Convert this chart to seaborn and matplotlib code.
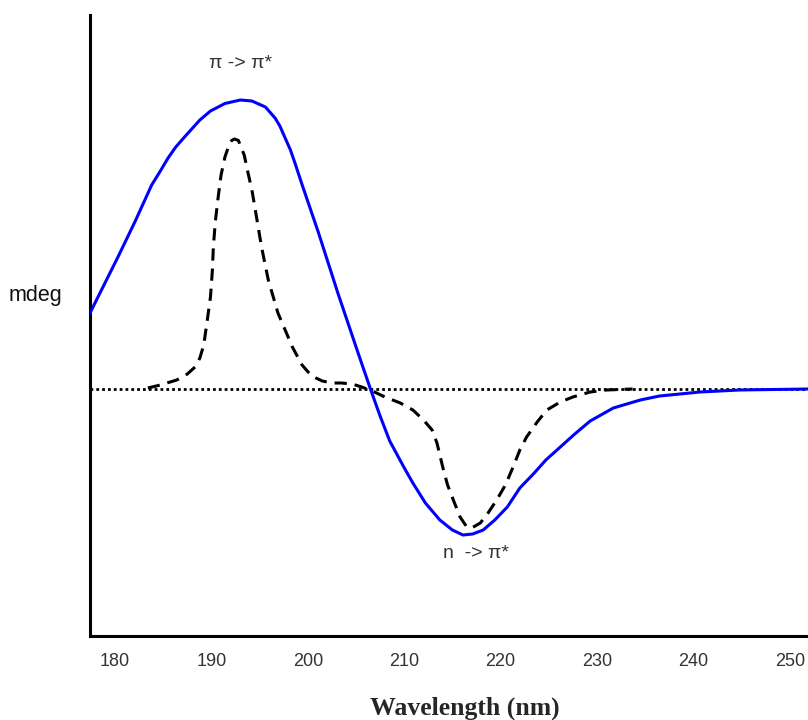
import matplotlib
matplotlib.use("Agg")
import matplotlib.pyplot as plt
import seaborn as sns
import pandas as pd

# Measured CD spectrum (blue) and resolved component bands (dashed)
wl_blue = [177.4, 180.3, 182.1, 183.8, 184.7, 185.5, 186.3, 187.3, 188.8, 189.9,
           191.4, 193.0, 194.2, 195.6, 196.6, 197.1, 197.6, 198.2, 198.7, 199.4,
           201.1, 203.1, 205.2, 206.5, 207.5, 208.5, 209.9, 210.9, 212.2, 213.7,
           215.0, 216.1, 217.1, 218.2, 219.4, 220.7, 222.0, 223.4, 224.7, 226.2,
           227.7, 229.3, 231.7, 234.5, 236.5, 240.7, 244.8, 251.9]
mdeg_blue = [7.6, 13.2, 16.8, 20.4, 21.8, 23.1, 24.2, 25.3, 26.9, 27.8,
             28.55, 28.9, 28.8, 28.2, 27.1, 26.3, 25.2, 23.9, 22.5, 20.45,
             15.65, 9.65, 3.65, 0.0, -2.7, -5.2, -7.7, -9.4, -11.4, -13.1,
             -14.1, -14.6, -14.5, -14.1, -13.1, -11.8, -9.9, -8.5, -7.1, -5.8,
             -4.5, -3.2, -1.9, -1.1, -0.7, -0.3, -0.1, 0.0]

wl_dash = [183.4, 184.7, 186.4, 187.5, 188.3, 188.8, 189.2, 189.5, 189.9, 190.1,
           190.2, 190.4, 190.7, 191.0, 191.4, 191.9, 192.1, 192.4, 192.8, 192.9,
           193.4, 193.8, 194.2, 194.5, 195.2, 195.9, 196.9, 198.4, 199.4, 200.4,
           201.5, 202.5, 203.5, 204.6, 205.6, 206.7, 208.0, 209.6, 210.9, 212.0,
           212.9, 213.4, 214.0, 214.5, 215.1, 215.8, 216.5, 217.0, 217.9, 218.7,
           219.6, 220.5, 221.3, 222.0, 222.7, 223.8, 224.8, 226.2, 227.5, 229.3,
           231.0, 233.7]
mdeg_dash = [0.1, 0.4, 0.9, 1.5, 2.2, 3.1, 4.4, 6.4, 9.2, 11.9,
             14.2, 16.7, 19.2, 21.4, 23.2, 24.6, 24.85, 25.0, 24.85, 24.6,
             23.4, 21.6, 19.9, 18.2, 14.2, 10.9, 7.6, 4.2, 2.4, 1.3,
             0.8, 0.6, 0.6, 0.5, 0.2, -0.2, -0.8, -1.4, -2.1, -3.1,
             -4.1, -5.4, -7.8, -9.6, -11.1, -12.8, -13.8, -13.9, -13.4, -12.4,
             -11.1, -9.6, -7.8, -6.1, -4.8, -3.3, -2.1, -1.3, -0.8, -0.3,
             -0.1, 0.0]

xticks = [180, 190, 200, 210, 220, 230, 240, 250]
annotations = ["\u03c0 -> \u03c0*", "n  -> \u03c0*"]
annot_pos = [(193.0, 32.5), (217.5, -16.4)]

sns.set_theme(style="white")
plt.rcParams['font.family'] = ['Liberation Sans', 'DejaVu Sans']

fig = plt.figure(figsize=(8.08, 7.2), dpi=100)
ax = fig.add_axes([90/808, 84/720, 1 - 90/808, (636-15)/720])

blue = pd.DataFrame({"wl": wl_blue, "mdeg": mdeg_blue})
dash = pd.DataFrame({"wl": wl_dash, "mdeg": mdeg_dash})

ax.axhline(0, color="black", lw=2.0, linestyle=(0, (1, 1.1)), zorder=1)
sns.lineplot(data=dash, x="wl", y="mdeg", ax=ax, color="black", lw=2.2,
             linestyle=(0, (4, 2.6)), sort=False, zorder=2)
sns.lineplot(data=blue, x="wl", y="mdeg", ax=ax, color="#0000ff", lw=2.2,
             sort=False, zorder=3)

ax.set_xlim(177.4, 251.9)
ax.set_ylim(-24.7, 37.4)
ax.set_xticks(xticks)
ax.set_xticklabels([str(t) for t in xticks], color="#333333", fontsize=13)
ax.set_yticks([])
ax.tick_params(axis="x", length=0, pad=12)
ax.set_xlabel("")
ax.set_ylabel("")
for s in ["top", "right"]:
    ax.spines[s].set_visible(False)
for s in ["left", "bottom"]:
    ax.spines[s].set_color("black")
    ax.spines[s].set_linewidth(2.2)

for txt, (x, y) in zip(annotations, annot_pos):
    ax.text(x, y, txt, ha="center", va="center", fontsize=14, color="#333333")

fig.text(35/808, 1 - 295/720, "mdeg", ha="center", va="center", fontsize=15.5, color="#111111")
fig.text(465/808, 1 - 708/720, "Wavelength (nm)", ha="center", va="center",
         fontsize=18.5, fontweight="bold", family=["Liberation Serif", "DejaVu Serif"])

fig.savefig("out.png", dpi=100)
